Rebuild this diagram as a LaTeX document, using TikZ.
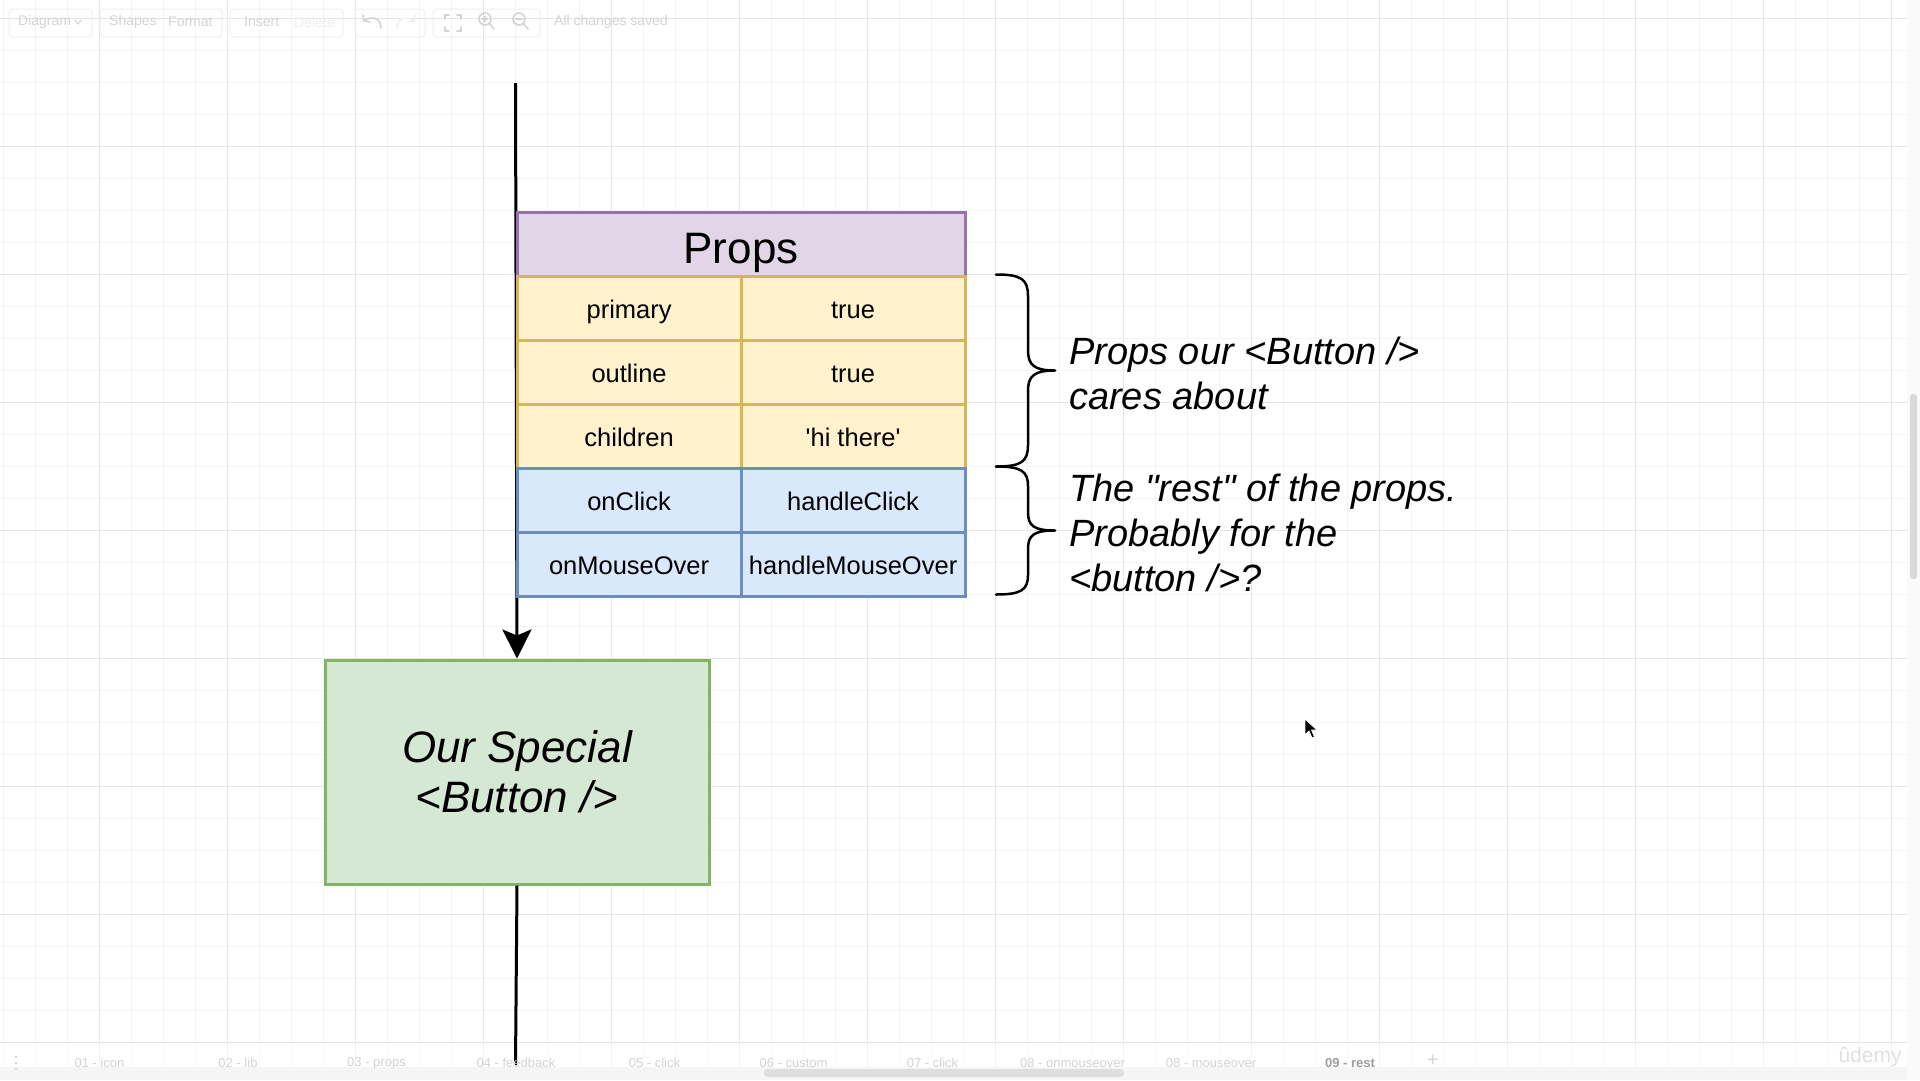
\documentclass[tikz,border=0pt]{standalone}
\usepackage{fontspec}
\setmainfont{Liberation Sans}[Ligatures=TeXOff]
\usetikzlibrary{arrows.meta}
\definecolor{headfill}{HTML}{E1D5E7}
\definecolor{headline}{HTML}{9673A6}
\definecolor{yfill}{HTML}{FFF2CC}
\definecolor{yline}{HTML}{D6B656}
\definecolor{bfill}{HTML}{DAE8FC}
\definecolor{bline}{HTML}{6C8EBF}
\definecolor{gfill}{HTML}{D5E8D4}
\definecolor{gline}{HTML}{82B366}
\definecolor{gridminor}{HTML}{F4F4F4}
\definecolor{gridmajor}{HTML}{E6E6E6}
\definecolor{uigray}{HTML}{D4D4D4}
\definecolor{uiline}{HTML}{EFEFEF}
\begin{document}
\begin{tikzpicture}[x=1pt,y=-1pt,
  cell/.style={draw, line width=3.2pt, minimum width=224pt, minimum height=64pt,
    inner sep=0pt, anchor=north west, font=\fontsize{25.5}{30}\selectfont,
    text height=21.5pt, text depth=1.5pt},
  keyy/.style={cell, fill=yfill, draw=yline},
  keyb/.style={cell, fill=bfill, draw=bline},
  header/.style={draw=headline, fill=headfill, line width=3.2pt, minimum width=448pt,
    minimum height=64pt, inner sep=0pt, anchor=north west,
    font=\fontsize{44}{50}\selectfont, text height=39pt, text depth=1pt},
  btnbox/.style={draw=gline, fill=gfill, line width=3pt, minimum width=384pt,
    minimum height=224pt, inner sep=0pt, anchor=north west,
    font=\itshape\fontsize{44}{51}\selectfont, align=center},
  note/.style={anchor=base west, inner sep=0pt, font=\itshape\fontsize{38}{44}\selectfont},
  flow/.style={line width=3pt, black},
  brace/.style={line width=2.5pt, line cap=round, black},
  uitext/.style={text=uigray, font=\fontsize{14}{16}\selectfont, inner sep=0pt, anchor=west},
  tabtext/.style={text=uigray, font=\fontsize{13}{15}\selectfont, inner sep=0pt},
  uiicon/.style={draw=uigray, line width=1.6pt, line cap=round},
  uibox/.style={draw=uiline, line width=1pt, rounded corners=4pt}
]
\useasboundingbox (0,0) rectangle (1920,1080);
\fill[white] (0,0) rectangle (1920,1080);

% ---- grid ----
\foreach \x in {3.5,35.5,...,1919} \draw[gridminor, line width=1pt] (\x,0) -- (\x,1080);
\foreach \y in {18.5,50.5,...,1079} \draw[gridminor, line width=1pt] (0,\y) -- (1920,\y);
\foreach \x in {99.5,227.5,...,1919} \draw[gridmajor, line width=1pt] (\x,0) -- (\x,1080);
\foreach \y in {18.5,146.5,...,1079} \draw[gridmajor, line width=1pt] (0,\y) -- (1920,\y);

% ---- toolbar (faint UI) ----
\draw[uibox] (9,9) rectangle (92,37);
\draw[uibox] (100,9) rectangle (222,37);
\draw[uibox] (230,9) rectangle (343,37);
\draw[uibox] (355,9) rectangle (425,37);
\draw[uibox] (433,9) rectangle (540,37);
\node[uitext] (tDiagram) at (18,22) {Diagram};
\draw[uiicon, line width=1pt] (75,20) -- (78,24) -- (81,20);
\node[uitext] (tShapes) at (109,22) {Shapes};
\node[uitext] (tFormat) at (168,22) {Format};
\node[uitext] (tInsert) at (244,22) {Insert};
\node[uitext, text=uiline] (tDelete) at (294,22) {Delete};
\draw[uiicon] (381,28) .. controls (381,18) and (371,15) .. (364,21);
\draw[uiicon] (363,15) -- (364,21) -- (370,22);
\draw[uiicon, draw=uiline] (397,28) .. controls (397,18) and (407,15) .. (414,21);
\draw[uiicon, draw=uiline] (415,15) -- (414,21) -- (408,22);
\draw[uiicon] (445,19) -- (445,15) -- (449,15) (457,15) -- (461,15) -- (461,19)
  (461,27) -- (461,31) -- (457,31) (449,31) -- (445,31) -- (445,27);
\draw[uiicon] (485,19) circle (6);
\draw[uiicon] (489.5,23.5) -- (494,29);
\draw[uiicon, line width=1.2pt] (482,19) -- (488,19) (485,16) -- (485,22);
\draw[uiicon] (519,19) circle (6);
\draw[uiicon] (523.5,23.5) -- (528,29);
\draw[uiicon, line width=1.2pt] (516,19) -- (522,19);
\node[uitext] (tSaved) at (554,22) {All changes saved};

% ---- right scrollbar ----
\fill[white!98!black] (1907,0) rectangle (1920,1080);
\fill[white!85!black, rounded corners=3pt] (1910,394) rectangle (1917,579);

% ---- diagram ----
\node[btnbox] (btn) at (323.5,658.5) {Our Special\\[-1pt]<Button />};
\coordinate (src) at (515.5,83);
\coordinate (sink) at (515.5,1065);
\draw[flow, -{Stealth[length=29pt, width=29pt, inset=6pt]}] (src) -- (btn.north);

\node[header] (props) at (515.5,210.5) {Props};
\node[keyy] (k1) at (515.5,274.5) {primary};
\node[keyy] (v1) at (739.5,274.5) {true};
\node[keyy] (k2) at (515.5,338.5) {outline};
\node[keyy] (v2) at (739.5,338.5) {true};
\node[keyy] (k3) at (515.5,402.5) {children};
\node[keyy] (v3) at (739.5,402.5) {'hi there'};
\node[keyb] (k4) at (515.5,466.5) {onClick};
\node[keyb] (v4) at (739.5,466.5) {handleClick};
\node[keyb] (k5) at (515.5,530.5) {onMouseOver};
\node[keyb] (v5) at (739.5,530.5) {handleMouseOver};

% braces
\draw[brace] (996,274.5) .. controls (1021,274.5) and (1028,279) .. (1028,296)
  -- (1028,350) .. controls (1028,365) and (1034,370.5) .. (1055,370.5)
  (1055,370.5) .. controls (1034,370.5) and (1028,376) .. (1028,391)
  -- (1028,445) .. controls (1028,462) and (1021,466.5) .. (996,466.5);
\draw[brace] (996,466.5) .. controls (1021,466.5) and (1028,471) .. (1028,486)
  -- (1028,512) .. controls (1028,526) and (1034,530.5) .. (1055,530.5)
  (1055,530.5) .. controls (1034,530.5) and (1028,535) .. (1028,549)
  -- (1028,575) .. controls (1028,590) and (1021,594.5) .. (996,594.5);

\node[note] (n1a) at (1069,364) {Props our <Button />};
\node[note] (n1b) at (1069,409) {cares about};
\node[note] (n2a) at (1069,501) {The "rest" of the props.};
\node[note] (n2b) at (1069,546) {Probably for the};
\node[note] (n2c) at (1069,591) {<button />?};

% cursor
\draw[fill=black, draw=white, line width=0.8pt, line join=round]
  (1305,719) -- (1305,735) -- (1309,731) -- (1312,738) -- (1314.5,737) -- (1311.5,730) -- (1317,730) -- cycle;

% ---- bottom tab bar ----
\fill[white, opacity=0.55] (0,1043) rectangle (1907,1080);
\fill[white!96!black] (0,1067) rectangle (1907,1080);
\fill[white!87!black, rounded corners=4pt] (764,1069) rectangle (1124,1077);
\draw[flow] (btn.south) -- (sink);
\fill[uigray] (16,1057) circle (1.3) (16,1063) circle (1.3) (16,1069) circle (1.3);
\node[tabtext] (tab1) at (99.5,1063) {01 - icon};
\node[tabtext] (tab2) at (238,1063) {02 - lib};
\node[tabtext] (tab3) at (376.5,1063) {03 - props};
\node[tabtext] (tab4) at (516,1063) {04 - feedback};
\node[tabtext] (tab5) at (654.5,1063) {05 - click};
\node[tabtext] (tab6) at (793.5,1063) {06 - custom};
\node[tabtext] (tab7) at (932.5,1063) {07 - click};
\node[tabtext] (tab8) at (1072.5,1063) {08 - onmouseover};
\node[tabtext] (tab9) at (1211,1063) {08 - mouseover};
\node[tabtext, text=white!62!black, font=\bfseries\fontsize{13}{15}\selectfont] (tab10) at (1350,1063) {09 - rest};
\node[tabtext, font=\fontsize{20}{22}\selectfont] (tabplus) at (1433,1061) {+};
\node[text=white!88!black, font=\fontsize{21}{24}\selectfont, inner sep=0pt] (udemy) at (1870,1057) {ûdemy};
\end{tikzpicture}
\end{document}
